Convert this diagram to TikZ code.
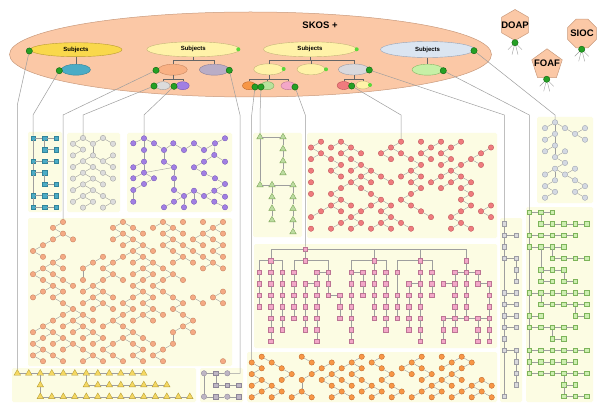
\documentclass[tikz,border=0pt]{standalone}
\usepackage{fontspec}
\setmainfont{Liberation Sans}
\usetikzlibrary{shapes.geometric}
\pgfdeclarelayer{bgA}
\pgfdeclarelayer{bgB}
\pgfsetlayers{bgA,bgB,main}
\definecolor{panelc}{HTML}{FCFCE3}
\definecolor{lnkc}{HTML}{9E9E9E}
\definecolor{skosf}{HTML}{FBC8A6}
\definecolor{skosd}{HTML}{C99A7C}
\definecolor{goldf}{HTML}{F9D84C}
\definecolor{goldd}{HTML}{B89B30}
\definecolor{lyf}{HTML}{FFF2A8}
\definecolor{lyd}{HTML}{C4B478}
\definecolor{lbf}{HTML}{DBE5F1}
\definecolor{lbd}{HTML}{94A3B8}
\definecolor{tealf}{HTML}{4BACC6}
\definecolor{teald}{HTML}{31849B}
\definecolor{orlf}{HTML}{F9B184}
\definecolor{orld}{HTML}{C98760}
\definecolor{gpf}{HTML}{B9ADC6}
\definecolor{gpd}{HTML}{8C8098}
\definecolor{lgf}{HTML}{DCDCDC}
\definecolor{lgd}{HTML}{A0A0A0}
\definecolor{puf}{HTML}{A17FE3}
\definecolor{pud}{HTML}{7556B8}
\definecolor{ornf}{HTML}{F79646}
\definecolor{ornd}{HTML}{C0682A}
\definecolor{lgnf}{HTML}{B7E29C}
\definecolor{lgnd}{HTML}{7BAA5C}
\definecolor{pkf}{HTML}{F3A7C8}
\definecolor{pkd}{HTML}{BC7494}
\definecolor{gyf}{HTML}{D9D9DD}
\definecolor{gyd}{HTML}{9C9CA4}
\definecolor{rdf}{HTML}{EF7B7E}
\definecolor{rdd}{HTML}{BD4F55}
\definecolor{lgrf}{HTML}{C6F0A6}
\definecolor{lgrd}{HTML}{84B864}
\definecolor{dotf}{HTML}{25A025}
\definecolor{dotd}{HTML}{0C640C}
\definecolor{sdot}{HTML}{5AD83A}
\definecolor{nodeor}{HTML}{F4AA84}
\definecolor{nodeord}{HTML}{C8805C}
\definecolor{nodebg}{HTML}{D4D9E3}
\definecolor{nodebgd}{HTML}{99A0AE}
\definecolor{grnsqf}{HTML}{CDEFB0}
\definecolor{grnsqd}{HTML}{7DB45A}
\definecolor{gtrif}{HTML}{BCDCA0}
\definecolor{gtrid}{HTML}{7AA356}
\definecolor{ytrif}{HTML}{F5D862}
\definecolor{ytrid}{HTML}{B49A30}
\definecolor{mf}{HTML}{BEB6C4}
\definecolor{md}{HTML}{8E8698}
\newcommand\sbjfont{\bfseries\fontsize{6}{7}\selectfont}
\newcommand\bigfont{\bfseries\fontsize{9.5}{11}\selectfont}
\tikzset{
  lnk/.style={draw=lnkc, line width=0.4pt},
  conn/.style={draw=lnkc, line width=0.5pt},
  tree/.style={draw=gray!80!black, line width=0.4pt},
  panelbox/.style={fill=panelc, rounded corners=1.5pt},
  cnode/.style={circle, inner sep=0pt, minimum size=5.4pt, line width=0.35pt},
  snode/.style={rectangle, inner sep=0pt, minimum size=4.6pt, line width=0.35pt},
  tnode/.style={regular polygon, regular polygon sides=3, inner sep=0pt, minimum size=7.5pt, line width=0.35pt},
  oc/.style={cnode, fill=nodeor, draw=nodeord},
  kc/.style={cnode, fill=ornf, draw=ornd},
  rc/.style={cnode, fill=rdf, draw=rdd},
  bc/.style={cnode, fill=lgf, draw=lgd},
  pc/.style={cnode, fill=puf, draw=pud},
  fc/.style={cnode, fill=nodebg, draw=nodebgd},
  tsq/.style={snode, fill=tealf, draw=teald},
  psq/.style={snode, fill=pkf, draw=pkd},
  gsq/.style={snode, fill=gyf, draw=gyd},
  hsq/.style={snode, fill=grnsqf, draw=grnsqd},
  gtri/.style={tnode, fill=gtrif, draw=gtrid},
  ytri/.style={tnode, fill=ytrif, draw=ytrid},
  mcirc/.style={cnode, fill=mf, draw=md},
  msq/.style={snode, fill=mf, draw=md},
  sub/.style={ellipse, inner sep=0pt, line width=0.4pt},
  gdot/.style={circle, inner sep=0pt, minimum size=6.3pt, fill=dotf, draw=dotd, line width=0.4pt},
  sdotst/.style={circle, inner sep=0pt, minimum size=4pt, fill=sdot},
  ontoshape/.style={fill=skosf, draw=skosd, line width=0.5pt, inner sep=0pt}
}
% random lattice forest: prefix, x0, y0, imax, jmax, density, style, seed
\newcommand\latgen[8]{%
  \pgfmathsetseed{#8}%
  \foreach \j in {0,...,#5}{%
    \foreach \i in {0,...,#4}{%
      \pgfmathtruncatemacro\lpar{mod(\i+\j,2)}%
      \pgfmathsetmacro\lra{rnd}%
      \pgfmathsetmacro\lrb{rnd}%
      \pgfmathsetmacro\lrc{rnd}%
      \pgfmathsetmacro\lrd{rnd}%
      \ifnum\lpar=1
       \ifcsname pgf@sh@ns@#1-\i-\j\endcsname\else
        \ifdim\lra pt<#6pt
          \pgfmathtruncatemacro\lil{\i-1}%
          \pgfmathtruncatemacro\lir{\i+1}%
          \pgfmathtruncatemacro\lju{\j-1}%
          \pgfmathtruncatemacro\ljv{\j-2}%
          \def\ltarget{}%
          \ifdim\lrb pt<0.5pt
            \ifcsname pgf@sh@ns@#1-\lil-\lju\endcsname
              \edef\ltarget{#1-\lil-\lju}%
            \else
              \ifcsname pgf@sh@ns@#1-\lir-\lju\endcsname
                \edef\ltarget{#1-\lir-\lju}%
              \fi
            \fi
          \else
            \ifcsname pgf@sh@ns@#1-\lir-\lju\endcsname
              \edef\ltarget{#1-\lir-\lju}%
            \else
              \ifcsname pgf@sh@ns@#1-\lil-\lju\endcsname
                \edef\ltarget{#1-\lil-\lju}%
              \fi
            \fi
          \fi
          \ifx\ltarget\empty
            \ifdim\lrd pt<0.3pt
              \ifcsname pgf@sh@ns@#1-\i-\ljv\endcsname
                \edef\ltarget{#1-\i-\ljv}%
              \fi
            \fi
          \fi
          \ifx\ltarget\empty
            \def\lroot{0.3}\ifnum\j<2 \def\lroot{0.9}\fi
            \ifdim\lrc pt<\lroot pt
              \node[#7] (#1-\i-\j) at ({#2+10*\i},{#3+5.8*\j}) {};%
            \fi
          \else
            \node[#7] (#1-\i-\j) at ({#2+10*\i},{#3+5.8*\j}) {};%
            \draw[lnk] (#1-\i-\j) -- (\ltarget);%
          \fi
        \fi
       \fi
      \fi
    }%
  }%
}
% row segments: prefix,x0,y0,dx,dy,style,{r/ca/cb,...}
\newcommand\rowseg[7]{%
  \foreach \qr/\qa/\qb in {#7}{%
    \foreach \qc in {\qa,...,\qb}{%
      \node[#6] (#1-\qc-\qr) at ({#2+#4*\qc},{#3+#5*\qr}) {};%
      \ifnum\qc>\qa\relax
        \pgfmathtruncatemacro\qp{\qc-1}%
        \draw[lnk] (#1-\qp-\qr) -- (#1-\qc-\qr);%
      \fi
    }%
  }%
}
% column segments: prefix,x0,y0,dx,dy,style,{c/ra/rb,...}
\newcommand\colseg[7]{%
  \foreach \qc/\qa/\qb in {#7}{%
    \foreach \qr in {\qa,...,\qb}{%
      \node[#6] (#1-\qc-\qr) at ({#2+#4*\qc},{#3+#5*\qr}) {};%
      \ifnum\qr>\qa\relax
        \pgfmathtruncatemacro\qp{\qr-1}%
        \draw[lnk] (#1-\qc-\qp) -- (#1-\qc-\qr);%
      \fi
    }%
  }%
}
\begin{document}
\begin{tikzpicture}[x=1pt,y=-1pt]
\useasboundingbox (0,0) rectangle (600,409);
\begin{pgfonlayer}{bgA}
  \fill[white] (0,0) rectangle (600,409);
  \foreach \xa/\ya/\xb/\yb in {28/132/62/212, 67/133/120/212, 127/133/232/212,
      253/133/302/237, 307/133/497/238, 537/117/593/203, 500/218/522/402,
      526/207/593/402, 28/218/232/366, 254/244/497/348, 247/352/497/402,
      12/368/196/402, 200/368/243/402}
    \fill[panelbox] (\xa,\ya) rectangle (\xb,\yb);
  \node[ellipse, minimum width=482pt, minimum height=85pt, fill=skosf, draw=skosd, line width=0.5pt] (skos) at (250.5,54.5) {};
\end{pgfonlayer}

% ---------- ontology shapes ----------
\node[font=\bigfont] (skost) at (320,25) {SKOS +};
\node[ontoshape, regular polygon, regular polygon sides=6, shape border rotate=30, minimum size=31pt] (doap) at (515,25) {};
\node[font=\bigfont] (doapt) at (doap.center) {DOAP};
\node[ontoshape, regular polygon, regular polygon sides=8, minimum size=31pt] (sioc) at (582,33.5) {};
\node[font=\bigfont] (sioct) at (sioc.center) {SIOC};
\node[ontoshape, regular polygon, regular polygon sides=5, minimum size=32pt] (foaf) at (547,64.8) {};
\node[font=\bigfont] (foaft) at (547,63) {FOAF};
\node[gdot] (doapdot) at (515,42.7) {};
\node[gdot] (siocdot) at (581.7,49.3) {};
\node[gdot] (foafdot) at (546.7,79.3) {};
\foreach \dd in {doapdot,siocdot,foafdot}
  \foreach \dx/\dy in {-7/7,-3/12,3/12,7/7}
    \draw[lnk] (\dd) -- ++(\dx,\dy);

% ---------- subject ellipses ----------
\node[sub, fill=goldf, draw=goldd, minimum width=92pt, minimum height=14pt, font=\sbjfont] (s1) at (76,49.7) {Subjects};
\node[sub, fill=lyf, draw=lyd, minimum width=93pt, minimum height=15pt, font=\sbjfont] (s2) at (193.3,49.3) {Subjects};
\node[sub, fill=lyf, draw=lyd, minimum width=93pt, minimum height=15pt, font=\sbjfont] (s3) at (310,49.3) {Subjects};
\node[sub, fill=lbf, draw=lbd, minimum width=94pt, minimum height=16pt, font=\sbjfont] (s4) at (427.5,49.5) {Subjects};
\node[sub, fill=tealf, draw=teald, minimum width=29pt, minimum height=11pt] (e1) at (76,69.7) {};
\node[sub, fill=orlf, draw=orld, minimum width=29pt, minimum height=11pt] (orl) at (172.8,69.7) {};
\node[sub, fill=gpf, draw=gpd, minimum width=30pt, minimum height=11pt] (gp) at (214.3,69.7) {};
\node[sub, fill=lgf, draw=lgd, minimum width=14pt, minimum height=8pt] (lg) at (163,85.7) {};
\node[sub, fill=puf, draw=pud, minimum width=13pt, minimum height=8pt] (pu) at (182.7,85.7) {};
\node[sub, fill=lyf, draw=lyd, minimum width=30pt, minimum height=11pt] (ly1) at (268.7,69.3) {};
\node[sub, fill=lyf, draw=lyd, minimum width=28pt, minimum height=11pt] (ly2) at (311,69.3) {};
\node[sub, fill=gyf, draw=gyd, minimum width=31pt, minimum height=11pt] (gy) at (353.8,69.5) {};
\node[sub, fill=ornf, draw=ornd, minimum width=13pt, minimum height=8pt] (orn) at (249,85.7) {};
\node[sub, fill=lgnf, draw=lgnd, minimum width=13pt, minimum height=8pt] (lgn) at (267.5,85.7) {};
\node[sub, fill=pkf, draw=pkd, minimum width=14pt, minimum height=8pt] (pk) at (288,85.7) {};
\node[sub, fill=rdf, draw=rdd, minimum width=13pt, minimum height=8pt] (rd) at (343.7,85.5) {};
\node[sub, fill=lyf, draw=lyd, minimum width=14pt, minimum height=8pt] (ly3) at (363,85) {};
\node[sub, fill=lgrf, draw=lgrd, minimum width=31pt, minimum height=11pt] (lgr) at (427.5,69.7) {};

\coordinate (j2) at (193.3,60.7);
\coordinate (j3) at (172.8,79.3);
\coordinate (j4) at (310,60.5);
\coordinate (j5) at (268.7,79.2);
\coordinate (j6) at (353.8,79.2);
\draw[tree] (s1) -- (e1);
\draw[tree] (s4) -- (lgr);
\draw[tree] (s2) -- (j2) -| (orl.north);
\draw[tree] (j2) -| (gp.north);
\draw[tree] (orl) -- (j3) -| (lg.north);
\draw[tree] (j3) -| (pu.north);
\draw[tree] (s3) -- (j4) -| (ly1.north);
\draw[tree] (j4) -| (ly2.north);
\draw[tree] (j4) -| (gy.north);
\draw[tree] (ly1) -- (j5) -| (orn.north);
\draw[tree] (j5) -| (lgn.north);
\draw[tree] (j5) -| (pk.north);
\draw[tree] (gy) -- (j6) -| (rd.north);
\draw[tree] (j6) -| (ly3.north);

% dots
\foreach \nm/\x/\y in {dA/29.3/51, dB/59.3/70.7, dC/156/70.3, dD/229.3/70.3, dE/154/86,
    dF/174/86.3, dG/255/87, dH/261/87, dI/295/87, dJ/351.7/86, dK/369.3/70,
    dL/443.3/70.7, dM/474/50.7}
  \node[gdot] (\nm) at (\x,\y) {};
\foreach \nm/\x/\y in {sA/238.3/49.3, sB/283.7/69, sC/326/69.3, sD/356.7/49.3, sE/370/85}
  \node[sdotst] (\nm) at (\x,\y) {};

% ---------- panel A : teal squares ----------
\rowseg{A}{33}{138}{11.5}{11.5}{tsq}{0/0/2, 1/1/2, 2/0/2, 3/0/1, 4/1/2, 5/0/2, 6/0/2}
\draw[lnk] (A-0-0) -- (A-0-2) -- (A-0-3) -- (A-0-5) -- (A-0-6);
\draw[lnk] (A-1-0) -- (A-1-1);
\draw[lnk] (A-1-3) -- (A-1-4);

% ---------- panel B : grey circles ----------
\foreach \i/\j in {1/0, 0/1, 2/1, 3/0, 4/1, 1/2, 2/3, 0/3, 4/3, 3/4, 1/4, 2/5, 0/5, 4/5,
    1/6, 3/6, 2/7, 0/7, 4/7, 1/8, 3/8, 2/9, 0/9, 1/10, 3/10, 0/11, 2/11, 4/11, 1/12, 3/12}
  \node[bc] (B-\i-\j) at ({73+10*\i},{138+5.8*\j}) {};
\foreach \a/\b/\c/\d in {1/0/0/1, 1/0/2/1, 2/1/3/0, 3/0/4/1, 0/1/1/2, 2/1/2/3, 1/2/0/3,
    2/3/3/4, 3/4/4/3, 3/4/4/5, 2/3/1/4, 1/4/0/5, 1/4/2/5, 2/5/1/6, 2/5/3/6, 1/6/0/7,
    1/6/2/7, 2/7/3/8, 3/6/4/7, 2/7/1/8, 1/8/0/9, 1/8/2/9, 2/9/3/10, 2/9/1/10, 1/10/0/11,
    1/10/2/11, 2/11/1/12, 3/10/4/11, 4/11/3/12}
  \draw[lnk] (B-\a-\b) -- (B-\c-\d);

% ---------- panel C : purple circles ----------
\foreach \n/\x/\y in {1/144/138.3, 2/133.3/143.3, 3/154/143.3, 4/144/150, 5/164/150,
    6/173.3/143.3, 7/184/150, 8/194/143.3, 9/204/150, 10/215/143.3, 11/225/138.3,
    12/214.3/155, 13/204/161.7, 14/225/161.7, 15/194/167.3, 16/204/173.3, 17/215/178.3,
    18/225/184, 19/214.3/190.7, 20/225/196.7, 21/204/196, 22/194/190.7, 23/184/196,
    24/174/201.7, 25/164/207.3, 26/184/207.3, 27/194/201.7, 28/214.3/201.7, 29/225/207.3,
    30/144/161.7, 31/133.3/167.3, 32/144/172.7, 33/154/178.3, 34/144/184, 35/133.3/178.3,
    36/133.3/190, 37/133.3/201.7, 38/164/161.7, 39/174/167.3, 40/174/178.3, 41/174/190}
  \node[pc] (C-\n) at (\x,\y) {};
\foreach \a/\b in {1/2, 1/3, 1/4, 3/5, 5/6, 6/7, 7/8, 8/9, 9/10, 10/11, 10/12, 12/13, 12/14,
    13/15, 15/16, 16/17, 17/18, 18/19, 19/20, 19/21, 21/22, 22/23, 23/24, 24/25, 23/26,
    22/27, 21/28, 28/29, 4/30, 30/31, 30/32, 32/33, 33/34, 32/35, 34/36, 36/37, 5/38,
    38/39, 32/39, 39/40, 40/41, 41/23}
  \draw[lnk] (C-\a) -- (C-\b);

% ---------- panel D : green triangles ----------
\foreach \n/\x/\y in {1/260/137, 2/283/137, 3/283/149, 4/283/161, 5/283/173,
    6/260/185, 7/272/185, 8/293/185, 9/272/197, 10/272/208.5, 11/272/220,
    12/293/197, 13/293/208.5, 14/293/220, 15/293/232}
  \node[gtri] (D-\n) at (\x,\y) {};
\foreach \a/\b in {1/2, 2/3, 3/4, 4/5, 1/6, 6/7, 7/8, 7/9, 9/10, 10/11, 8/12, 12/13, 13/14, 14/15}
  \draw[lnk] (D-\a) -- (D-\b);

% ---------- panel E : red circles ----------
\node[rc] (R-9-0) at (401,141.7) {};
\latgen{R}{311}{141.7}{18}{15}{0.7}{rc}{41}

% ---------- panel F : blue-grey circles ----------
\foreach \i/\j in {1/0, 0/1, 2/1, 3/2, 4/1, 4/3, 1/2, 0/3, 1/4, 0/5, 2/5, 1/6, 2/7, 1/8,
    0/9, 2/9, 3/8, 1/10, 0/11, 3/10, 4/11, 3/12, 1/12, 0/13, 4/13}
  \node[fc] (F-\i-\j) at ({545+10*\i},{122.3+5.8*\j}) {};
\foreach \a/\b/\c/\d in {1/0/0/1, 1/0/2/1, 2/1/3/2, 3/2/4/1, 3/2/4/3, 1/0/1/2, 1/2/0/3,
    1/2/1/4, 1/4/0/5, 1/4/1/6, 1/6/2/5, 1/6/2/7, 2/7/1/8, 1/8/0/9, 1/8/2/9, 2/9/3/8,
    1/8/1/10, 1/10/0/11, 2/9/3/10, 3/10/4/11, 4/11/3/12, 0/11/1/12, 1/12/0/13, 3/12/4/13}
  \draw[lnk] (F-\a-\b) -- (F-\c-\d);

% ---------- panel G : grey squares column ----------
\foreach \qr in {1,2,3,4,7,8,9,10,11,12,16}
  \node[gsq] (G-0-\qr) at (504.3,{212.3+11.5*\qr}) {};
\foreach \qr in {2,4,5,6,7,8,9,10,12,13,14,15}
  \node[gsq] (G-1-\qr) at (516,{212.3+11.5*\qr}) {};
\draw[lnk] (G-0-1) -- (G-0-2) -- (G-0-3) -- (G-0-4) -- (G-0-7) -- (G-0-8) -- (G-0-9)
  -- (G-0-10) -- (G-0-11) -- (G-0-12) -- (G-0-16);
\foreach \qr in {2,4,7,8,9,10,12}
  \draw[lnk] (G-0-\qr) -- (G-1-\qr);
\draw[lnk] (G-1-4) -- (G-1-5) -- (G-1-6);
\draw[lnk] (G-1-12) -- (G-1-13) -- (G-1-14) -- (G-1-15);

% ---------- panel H : green squares ----------
\rowseg{H}{529.3}{212.3}{11.5}{11.5}{hsq}{0/0/2, 1/1/5, 2/0/4, 3/0/3, 4/2/5, 5/1/3, 6/1/2, 6/3/4,
  7/0/5, 8/1/5, 9/0/1, 9/4/5, 10/0/4, 11/2/3, 12/0/5, 13/0/4, 14/0/5, 15/3/4, 16/3/5}
\draw[lnk] (H-0-0) -- (H-0-2) -- (H-0-3) -- (H-0-7) -- (H-0-9) -- (H-0-10) -- (H-0-12) -- (H-0-13) -- (H-0-14);
\draw[lnk] (H-1-0) -- (H-1-1);
\draw[lnk] (H-2-3) -- (H-2-4);
\draw[lnk] (H-1-3) -- (H-1-5) -- (H-1-6);
\draw[lnk] (H-3-5) -- (H-3-6);
\draw[lnk] (H-1-7) -- (H-1-8);
\draw[lnk] (H-4-8) -- (H-4-9);
\draw[lnk] (H-2-10) -- (H-2-11);
\draw[lnk] (H-3-14) -- (H-3-15) -- (H-3-16);

% ---------- panel I : light orange circles ----------
\node[oc] (O-3-0) at (63,222) {};
\latgen{O}{33}{222}{19}{24}{0.76}{oc}{67}

% ---------- panel J : pink squares ----------
\colseg{J}{259.3}{249}{11.5}{11.5}{psq}{0/2/5, 1/1/8, 2/2/7, 3/2/6, 4/0/1, 4/3/7, 5/2/8, 6/2/4,
  7/4/6, 8/2/8, 9/2/4, 10/1/6, 11/2/7, 12/2/2, 12/4/6, 13/3/7, 14/1/8, 15/2/4, 16/3/3,
  16/6/8, 17/2/7, 18/1/6, 19/2/3, 19/6/8, 20/3/8}
\draw[lnk] (J-4-0) -| (J-1-1);
\draw[lnk] (J-4-0) -| (J-10-1);
\draw[lnk] (J-4-0) -| (J-14-1);
\draw[lnk] (J-4-0) -| (J-18-1);
\draw[lnk] (J-1-1) -| (J-0-2);
\draw[lnk] (J-1-1) -| (J-2-2);
\draw[lnk] (J-4-1) -| (J-3-2);
\draw[lnk] (J-4-1) -| (J-6-2);
\draw[lnk] (J-5-2) -- (J-6-2);
\draw[lnk] (J-5-3) -- (J-4-3);
\draw[lnk] (J-6-4) -- (J-7-4);
\draw[lnk] (J-10-1) -| (J-8-2);
\draw[lnk] (J-10-1) -| (J-11-2);
\draw[lnk] (J-8-2) -- (J-9-2);
\draw[lnk] (J-14-1) -| (J-12-2);
\draw[lnk] (J-14-1) -| (J-15-2);
\draw[lnk] (J-12-2) -- (J-12-4);
\draw[lnk] (J-14-3) -- (J-13-3);
\draw[lnk] (J-17-3) -- (J-16-3);
\draw[lnk] (J-18-2) -- (J-17-2);
\draw[lnk] (J-18-2) -- (J-19-2);
\draw[lnk] (J-19-3) -- (J-20-3);
\draw[lnk] (J-16-6) -- (J-17-6) -- (J-18-6) -- (J-19-6) -- (J-20-6);

% ---------- panel K : orange circles ----------
\node[kc] (K-0-1) at (251.7,362.5) {};
\latgen{K}{251.7}{356.7}{24}{7}{0.82}{kc}{91}

% ---------- panel L : yellow triangles ----------
\rowseg{L}{17.3}{373.3}{11.5}{11.7}{ytri}{0/0/11, 1/2/2, 1/6/13, 2/2/15}
\draw[lnk] (L-2-0) -- (L-2-1) -- (L-2-2);
\draw[lnk] (L-6-0) -- (L-6-1);

% ---------- panel M : grey mixed ----------
\node[mcirc] (M-0-0) at (204,373.3) {};
\node[msq] (M-1-0) at (215.7,373.3) {};
\node[mcirc] (M-2-0) at (227.3,373.3) {};
\node[msq] (M-1-1) at (215.7,385) {};
\node[msq] (M-2-1) at (227.3,385) {};
\node[msq] (M-3-1) at (238.9,385) {};
\node[mcirc] (M-0-2) at (204,396.7) {};
\node[msq] (M-1-2) at (215.7,396.7) {};
\node[mcirc] (M-2-2) at (227.3,396.7) {};
\node[msq] (M-3-2) at (238.9,396.7) {};
\draw[lnk] (M-0-0) -- (M-1-0) -- (M-2-0);
\draw[lnk] (M-0-0) -- (M-0-2);
\draw[lnk] (M-1-0) -- (M-1-1) -- (M-2-1) -- (M-3-1);
\draw[lnk] (M-0-2) -- (M-1-2) -- (M-2-2) -- (M-3-2);

% ---------- connectors ----------
\begin{pgfonlayer}{bgB}
  \coordinate (bA) at (17.3,105);
  \coordinate (bB) at (33,115);
  \coordinate (bC) at (63,115);
  \coordinate (bD) at (240,115);
  \coordinate (bD2) at (240,373.3);
  \coordinate (bE) at (83,115);
  \coordinate (bF) at (144,115);
  \coordinate (bG) at (251.7,115);
  \coordinate (bH) at (260,115);
  \coordinate (bI) at (305.3,115);
  \coordinate (bJ) at (401,115);
  \coordinate (bK) at (504.3,115);
  \coordinate (bL) at (529.3,115);
  \coordinate (bM) at (555,115);
  \draw[conn] (dA) -- (bA) -- (L-0-0);
  \draw[conn] (dB) -- (bB) -- (A-0-0);
  \draw[conn] (dC) -- (bC) -- (O-3-0);
  \draw[conn] (dD) -- (bD) -- (bD2) -- (M-2-0);
  \draw[conn] (dE) -- (bE) -- (B-1-0);
  \draw[conn] (dF) -- (bF) -- (C-1);
  \draw[conn] (dG) -- (bG) -- (K-0-1);
  \draw[conn] (dH) -- (bH) -- (D-1);
  \draw[conn] (dI) -- (bI) -- (J-4-0);
  \draw[conn] (dJ) -- (bJ) -- (R-9-0);
  \draw[conn] (dK) -- (bK) -- (G-0-1);
  \draw[conn] (dL) -- (bL) -- (H-0-0);
  \draw[conn] (dM) -- (bM) -- (F-1-0);
\end{pgfonlayer}
\end{tikzpicture}
\end{document}
